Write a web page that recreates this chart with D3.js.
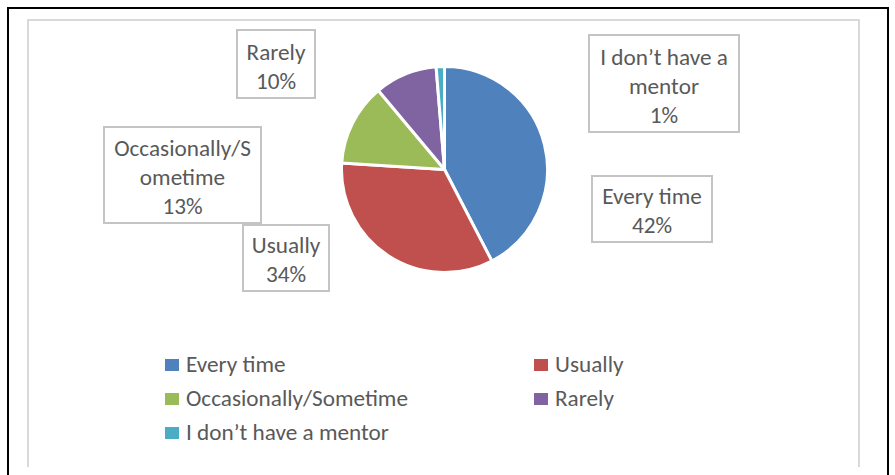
<!DOCTYPE html>
<html><head><meta charset="utf-8">
<script src="https://cdn.jsdelivr.net/npm/d3@7"></script>
<style>html,body{margin:0;padding:0;background:#fff;}svg{display:block;}</style>
</head><body>
<svg id="c" width="895" height="475"></svg>
<script>
// ---- data ----
const categories = ["Every time", "Usually", "Occasionally/Sometime", "Rarely", "I don't have a mentor"];
const values = [42.4, 33.6, 12.9, 9.8, 1.3];
const labelLines = [["Every time"], ["Usually"], ["Occasionally/S", "ometime"], ["Rarely"], ["I don\u2019t have a", "mentor"]];
const legendNames = ["Every time", "Usually", "Occasionally/Sometime", "Rarely", "I don\u2019t have a mentor"];
const colors = ["#4f81bd", "#c0504d", "#9bbb59", "#8064a2", "#4bacc6"];

// ---- layout ----
const W = 895, H = 475;
const cx = 444.5, cy = 169.5, R = 103;
const labelBoxes = [
  {x: 592, y: 176, w: 120, h: 66},
  {x: 243, y: 225, w: 86, h: 66},
  {x: 104, y: 127, w: 157, h: 96},
  {x: 237, y: 30, w: 78, h: 68},
  {x: 589, y: 35, w: 150, h: 97}
];
const textColor = "#595959";
const fontFamily = "Carlito, Calibri, Lato, 'Open Sans', sans-serif";

const svg = d3.select("#c");

// calibrate font size to match reference text widths
const probe = svg.append("text").attr("font-family", fontFamily).attr("font-size", 20).text("Occasionally/Sometime");
const pw = probe.node().getComputedTextLength();
probe.remove();
const fs = 20 * 222 / pw;

// frames
svg.append("path").attr("d", `M8,${H} V8 H888 V${H}`).attr("fill", "none").attr("stroke", "#000").attr("stroke-width", 2);
svg.append("path").attr("d", `M28,467 V20 H859 V467`).attr("fill", "none").attr("stroke", "#d9d9d9").attr("stroke-width", 2);

// pie
const pie = d3.pie().sort(null).value(d => d)(values);
const arc = d3.arc().innerRadius(0).outerRadius(R);
svg.append("g").attr("transform", `translate(${cx},${cy})`)
  .selectAll("path").data(pie).join("path")
  .attr("d", arc)
  .attr("fill", (d, i) => colors[i])
  .attr("stroke", "#fff").attr("stroke-width", 3).attr("stroke-linejoin", "round");

// data labels
const fmt = d3.format(".0f");
const lg = svg.append("g");
labelBoxes.forEach((b, i) => {
  const g = lg.append("g");
  g.append("rect").attr("x", b.x).attr("y", b.y).attr("width", b.w).attr("height", b.h)
    .attr("fill", "#fff").attr("stroke", "#c4c4c4").attr("stroke-width", 2);
  const lines = labelLines[i].concat([fmt(values[i]) + "%"]);
  const lh = 29;
  const last = b.y + b.h - 9;
  lines.forEach((t, j) => {
    g.append("text").attr("x", b.x + b.w / 2).attr("y", last - (lines.length - 1 - j) * lh)
      .attr("text-anchor", "middle").attr("font-family", fontFamily).attr("font-size", fs)
      .attr("fill", textColor).text(t);
  });
});

// legend
const legCols = [165, 534];
const legRows = [372, 406, 440];
const leg = svg.append("g");
legendNames.forEach((n, i) => {
  const x = legCols[i % 2], y = legRows[Math.floor(i / 2)];
  leg.append("rect").attr("x", x).attr("y", y - 13).attr("width", 14).attr("height", 12).attr("fill", colors[i]);
  leg.append("text").attr("x", x + 21).attr("y", y).attr("font-family", fontFamily).attr("font-size", fs)
    .attr("fill", textColor).text(n);
});
</script>
</body></html>
